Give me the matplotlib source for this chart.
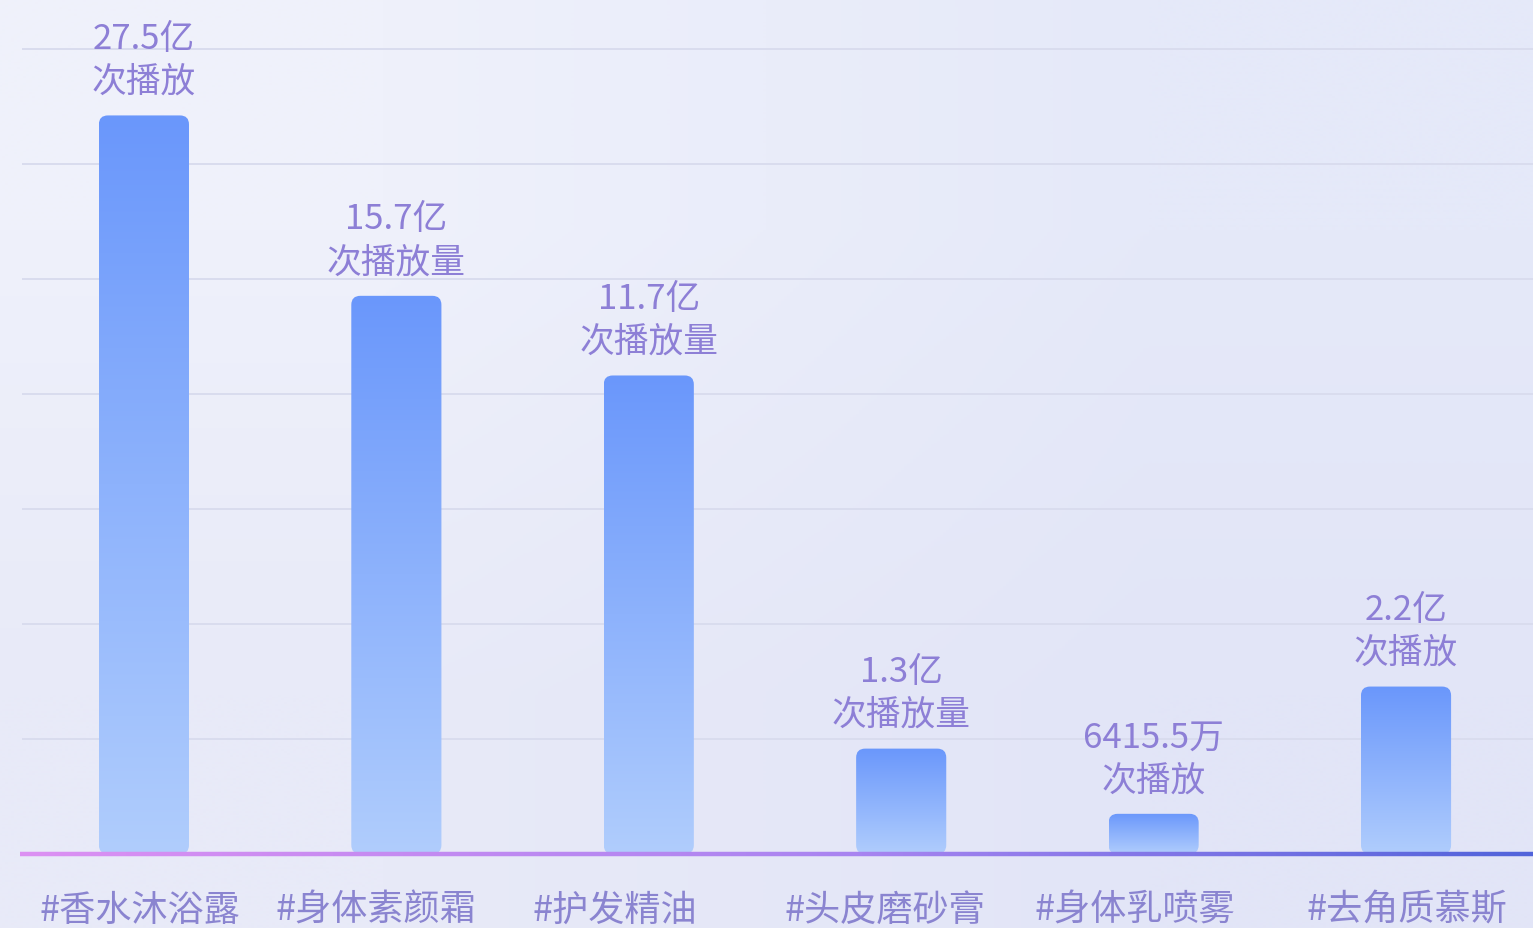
import numpy as np
import matplotlib
matplotlib.use("Agg")
import matplotlib.pyplot as plt
from matplotlib.patches import FancyBboxPatch
from matplotlib.collections import LineCollection
from matplotlib.colors import to_rgb

plt.rcParams['font.family'] = ['Noto Sans CJK SC', 'DejaVu Sans']

# ---- data (播放量, 单位: 亿) ----
categories = ['#香水沐浴露', '#身体素颜霜', '#护发精油', '#头皮磨砂膏', '#身体乳喷雾', '#去角质慕斯']
plays = [27.5, 15.7, 11.7, 1.3, 0.64155, 2.2]
value_text = ['27.5亿', '15.7亿', '11.7亿', '1.3亿', '6415.5万', '2.2亿']
unit_text = ['次播放', '次播放量', '次播放量', '次播放量', '次播放', '次播放']

# ---- layout / style ----
W, H, DPI = 1533, 929, 100
label_shift = [-0.016, -0.08, -0.135, -0.063, -0.075, 0.004]
bar_width = 0.357
power = 0.4
y_range = (0.366, 32.87)
text_color = '#8d7fd6'
cat_color = '#8a84d0'
bar_top = '#6a97fb'
bar_bottom = '#b0cdfd'
grid_color = '#d9dcee'

fig = plt.figure(figsize=(W / DPI, H / DPI), dpi=DPI)

# soft lavender background
bg = fig.add_axes([0, 0, 1, 1], zorder=-10)
corners = np.array([[to_rgb('#eff1fb'), to_rgb('#e5e9f9')],
                    [to_rgb('#e8eaf8'), to_rgb('#e2e5f7')]])
bg.imshow(corners, extent=[0, 1, 0, 1], interpolation='bilinear', aspect='auto')
bg.set_axis_off()

ax_left, ax_bottom = 20 / W, 74 / H
ax_w, ax_h = 1 - ax_left, (855 - 50) / H
ax = fig.add_axes([ax_left, ax_bottom, ax_w, ax_h])
ax.set_facecolor('none')
ax.set_yscale('function', functions=(lambda v: np.power(np.clip(v, 0, None), power),
                                     lambda v: np.power(np.clip(v, 0, None), 1 / power)))

x = np.arange(len(categories))
bars = ax.bar(x, plays, width=bar_width, alpha=0)
ax.set_xlim(-0.491, 5.503)
ax.set_ylim(*y_range)

# horizontal guide lines, evenly spaced
n_grid = 7
for k in range(1, n_grid + 1):
    ax.plot([0.0015, 1], [k / n_grid, k / n_grid], transform=ax.transAxes,
            color=grid_color, lw=1.4, zorder=1, solid_capstyle='butt', clip_on=False)

# rounded gradient bars
fig.canvas.draw()
data_to_axes = ax.transData + ax.transAxes.inverted()
px_w, px_h = ax_w * W, ax_h * H
radius_px = 9
grad = np.linspace(0, 1, 256)[:, None]
c_top, c_bot = np.array(to_rgb(bar_top)), np.array(to_rgb(bar_bottom))
grad_img = (c_top[None, None, :] * (1 - grad[..., None]) + c_bot[None, None, :] * grad[..., None])
for b in bars:
    x0d, x1d = b.get_x(), b.get_x() + b.get_width()
    top = b.get_height()
    ax0, ay1 = data_to_axes.transform((x0d, top))
    ax1, _ = data_to_axes.transform((x1d, top))
    ay0 = 0.0
    patch = FancyBboxPatch((ax0, ay0), ax1 - ax0, ay1 - ay0,
                           boxstyle=f"round,pad=0,rounding_size={radius_px / px_w}",
                           mutation_aspect=px_w / px_h,
                           transform=ax.transAxes, facecolor='none', edgecolor='none')
    ax.add_patch(patch)
    im = ax.imshow(grad_img, extent=[ax0, ax1, ay0, ay1], transform=ax.transAxes,
                   aspect='auto', interpolation='bilinear', zorder=2)
    im.set_clip_path(patch)

ax.set_xlim(-0.491, 5.503)
ax.set_ylim(*y_range)

# value labels above bars
for xi, v, t1, t2 in zip(x, plays, value_text, unit_text):
    ax.annotate(t1, (xi, v), xytext=(0, 55.5), textcoords='offset points',
                ha='center', va='center', fontsize=25, color=text_color)
    ax.annotate(t2, (xi, v), xytext=(0, 24.5), textcoords='offset points',
                ha='center', va='center', fontsize=25, color=text_color)

# gradient baseline
n_seg = 300
xs = np.linspace(0, 1, n_seg + 1)
segs = [[(xs[i], 0), (xs[i + 1], 0)] for i in range(n_seg)]
stops = [np.array(to_rgb(c)) for c in ('#dc90f2', '#a884f0', '#5063da')]
cols = []
for t in (xs[:-1] + xs[1:]) / 2:
    if t < 0.55:
        u = t / 0.55
        c = stops[0] * (1 - u) + stops[1] * u
    else:
        u = (t - 0.55) / 0.45
        c = stops[1] * (1 - u) + stops[2] * u
    cols.append(c)
lc = LineCollection(segs, colors=cols, linewidths=3.2, transform=ax.transAxes,
                    zorder=5, capstyle='butt', clip_on=False)
ax.add_collection(lc)

# category labels under the baseline
for xi, name, s in zip(x, categories, label_shift):
    ax.annotate(name, (xi + s, 0), xycoords=ax.get_xaxis_transform(),
                xytext=(0, -40), textcoords='offset points',
                ha='center', va='center', fontsize=26, color=cat_color,
                fontweight='medium')

for sp in ax.spines.values():
    sp.set_visible(False)
ax.set_xticks([])
ax.set_yticks([])
ax.minorticks_off()

fig.savefig('out.png', dpi=DPI)
